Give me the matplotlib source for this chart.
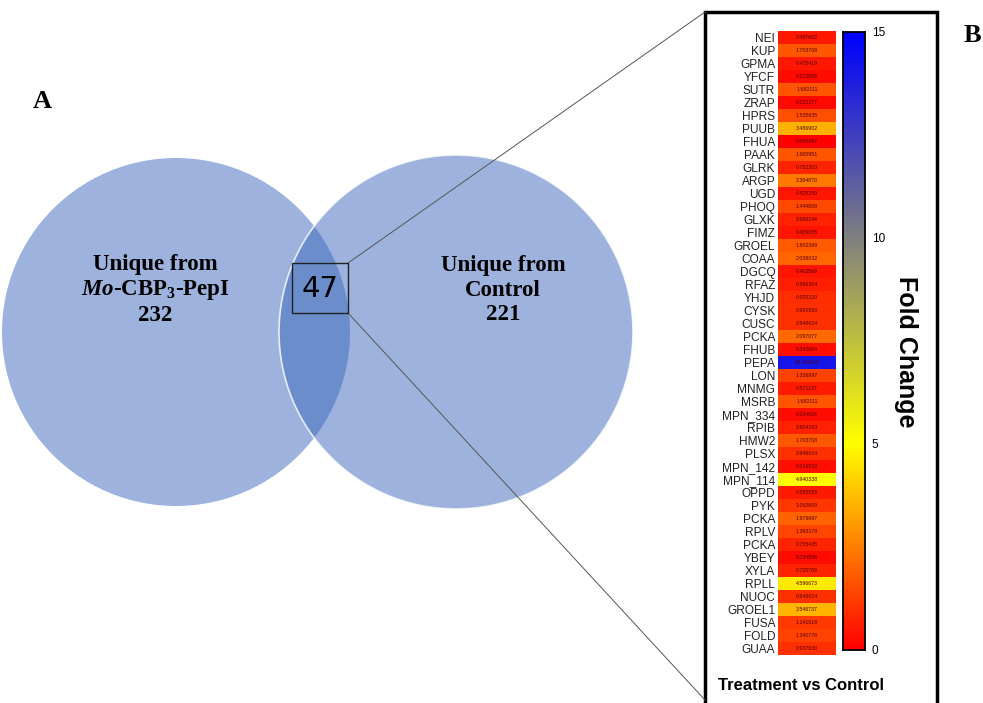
import numpy as np
import matplotlib
matplotlib.use("Agg")
import matplotlib.pyplot as plt
from matplotlib.patches import Circle, Rectangle
from matplotlib.colors import LinearSegmentedColormap

# Venn counts
unique_left = 232
unique_right = 221
shared = 47

# heatmap (Treatment vs Control fold change)
genes = ["NEI", "KUP", "GPMA", "YFCF", "SUTR", "ZRAP", "HPRS", "PUUB", "FHUA", "PAAK",
         "GLRK", "ARGP", "UGD", "PHOQ", "GLXK", "FIMZ", "GROEL", "COAA", "DGCQ", "RFAZ",
         "YHJD", "CYSK", "CUSC", "PCKA", "FHUB", "PEPA", "LON", "MNMG", "MSRB", "MPN_334",
         "RPIB", "HMW2", "PLSX", "MPN_142", "MPN_114", "OPPD", "PYK", "PCKA", "RPLV", "PCKA",
         "YBEY", "XYLA", "RPLL", "NUOC", "GROEL1", "FUSA", "FOLD", "GUAA"]
fold = [0.487602, 1.703708, 0.475419, 0.272956, 1.682111, 0.213277, 1.535635, 3.486902,
        0.045987, 1.665951, 0.752303, 2.364870, 0.425259, 1.444809, 0.690244, 0.429035,
        1.802399, 2.038032, 0.462569, 0.596304, 0.920220, 0.990560, 0.948014, 2.097077,
        0.342004, 14.104110, 1.336997, 0.571137, 1.682111, 0.244824, 0.654183, 1.703708,
        0.948014, 0.316510, 4.940338, 0.585555, 1.062609, 1.979697, 1.393178, 0.755435,
        0.234596, 0.725769, 4.596673, 0.948014, 3.546737, 1.141618, 1.340778, 0.937630]
cbar_ticks = [0, 5, 10, 15]

W, H = 983, 703
fig = plt.figure(figsize=(W / 100, H / 100), dpi=100)
ax = fig.add_axes([0, 0, 1, 1])
ax.set_xlim(0, W)
ax.set_ylim(H, 0)
ax.axis("off")

serif = "Liberation Serif"
plt.rcParams["mathtext.fontset"] = "custom"
plt.rcParams["mathtext.rm"] = "Liberation Serif:bold"
plt.rcParams["mathtext.bf"] = "Liberation Serif:bold"
plt.rcParams["mathtext.it"] = "Liberation Serif:italic:bold"

# venn circles - half transparent so the overlap gets darker
fc = "#3d69bd"
ax.add_patch(Circle((176, 332), 174, facecolor=fc, edgecolor="none", alpha=0.5, zorder=1))
ax.add_patch(Circle((456, 332), 177, facecolor=fc, edgecolor="none", alpha=0.5, zorder=2))
ax.add_patch(Circle((456, 332), 177, facecolor="none", edgecolor="white", lw=1.2, alpha=0.8, zorder=2))

ax.text(155, 290, "Unique from\n$\\mathit{Mo}$-CBP$_{3}$-PepI\n%d" % unique_left, ha="center", va="center",
        family=serif, fontweight="bold", fontsize=16.5, linespacing=1.2, zorder=5)
ax.text(503, 290, "Unique from\nControl\n%d" % unique_right, ha="center", va="center",
        family=serif, fontweight="bold", fontsize=16.5, linespacing=1.2, zorder=5)

ax.add_patch(Rectangle((292, 263), 56, 50, facecolor="none", edgecolor="#222222", lw=1.0, zorder=5))
ax.text(320, 289, str(shared), ha="center", va="center", family="DejaVu Sans", fontsize=21, zorder=6)

# zoom lines
ax.plot([348, 705], [263, 12], color="#555555", lw=0.7, zorder=4)
ax.plot([348, 705], [313, 700], color="#555555", lw=0.7, zorder=4)

ax.text(42, 102, "A", ha="center", va="center", family=serif, fontweight="bold", fontsize=19)
ax.text(972, 36, "B", ha="center", va="center", family=serif, fontweight="bold", fontsize=19)

# panel B frame
ax.add_patch(Rectangle((705, 12), 232, 700, facecolor="white", edgecolor="black", lw=2.5, zorder=3))

cmap = LinearSegmentedColormap.from_list(
    "fc", [(0, "#ff0000"), (1 / 3, "#ffff00"), (2 / 3, "#808080"), (1, "#0000ff")])

sans = "Liberation Sans"
# heatmap
hax = fig.add_axes([778 / W, 1 - 655 / H, 58 / W, 624 / H])
hax.imshow(np.array(fold).reshape(-1, 1), cmap=cmap, vmin=0, vmax=15, aspect="auto",
           interpolation="nearest")
hax.set_xticks([])
hax.set_yticks(range(len(genes)))
hax.set_yticklabels(genes, family=sans, fontsize=8.6, color="#222222")
hax.tick_params(axis="y", length=0, pad=2)
for s in hax.spines.values():
    s.set_visible(False)
for i, v in enumerate(fold):
    hax.text(0, i, "%.6f" % v, ha="center", va="center", fontsize=3.8, family=sans, color="#550000")

# colorbar
cax = fig.add_axes([843 / W, 1 - 650 / H, 22 / W, 618 / H])
grad = np.linspace(0, 15, 256).reshape(-1, 1)
cax.imshow(grad, cmap=cmap, vmin=0, vmax=15, aspect="auto", origin="lower",
           extent=[0, 1, 0, 15])
cax.set_xticks([])
cax.yaxis.tick_right()
cax.set_yticks(cbar_ticks)
cax.set_yticklabels([str(t) for t in cbar_ticks], family=sans, fontsize=8.5)
cax.tick_params(axis="y", length=0, pad=5)
for s in cax.spines.values():
    s.set_linewidth(1.3)

ax.text(906, 352, "Fold Change", rotation=270, ha="center", va="center", family=sans,
        fontweight="bold", fontsize=18, zorder=5)
ax.text(718, 685, "Treatment vs Control", ha="left", va="center", family=sans,
        fontweight="bold", fontsize=12, zorder=5)

fig.savefig("out.png", dpi=100)
